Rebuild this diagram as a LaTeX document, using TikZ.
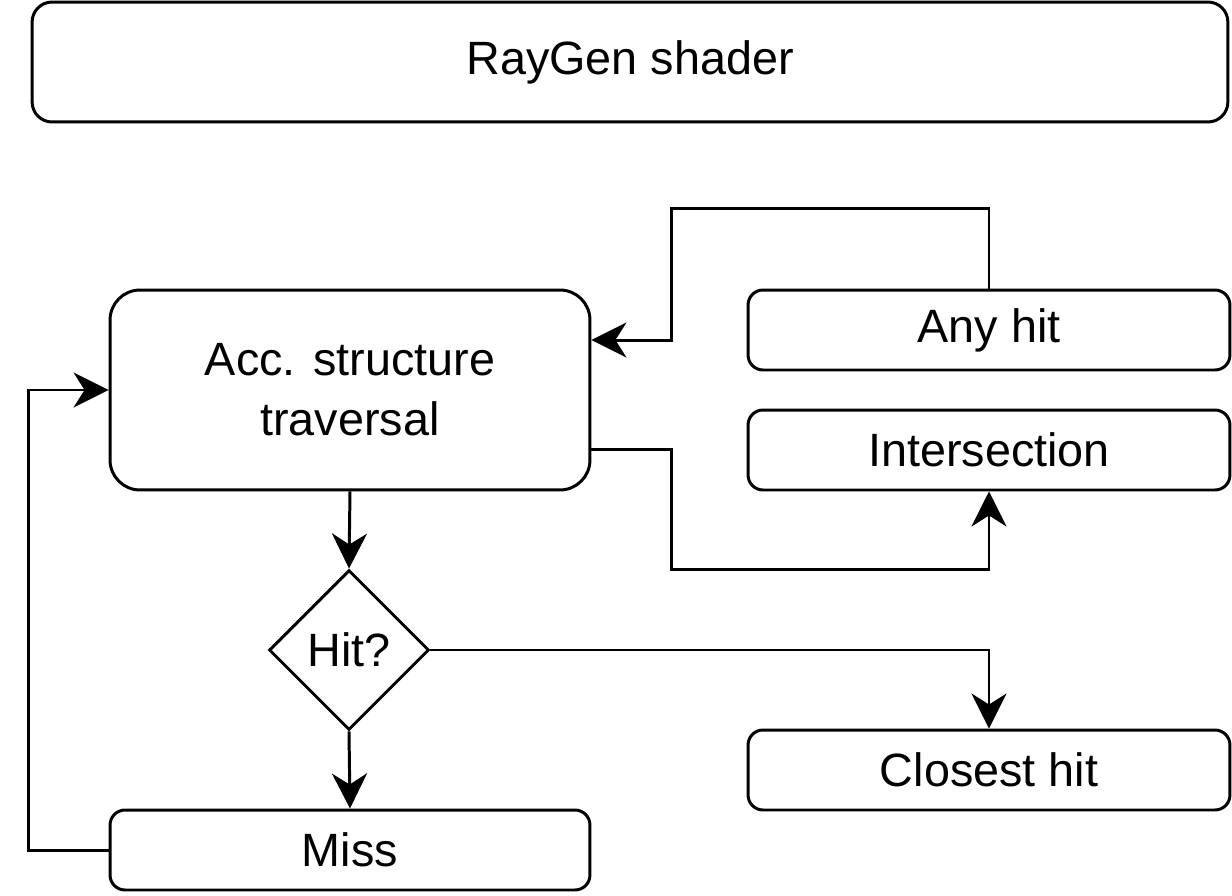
\documentclass[tikz,border=0pt]{standalone}
\usepackage{fontspec}
\setmainfont{Liberation Sans}
\usetikzlibrary{shapes.geometric,arrows.meta}
\tikzset{
  box/.style={draw, line width=1.7pt, rounded corners=0.3cm, inner sep=0pt, align=center},
  flow/.style={line width=1.7pt, -{Stealth[length=0.7cm, width=0.7cm, inset=0.22cm]}},
}
\begin{document}
\begin{tikzpicture}[x=0.02cm, y=-0.02cm, line join=miter, font=\fontsize{26.6}{34}\selectfont]
	\useasboundingbox (0,0) rectangle (1232,896);
	\node[box, rounded corners=0.4cm, minimum width=23.92cm, minimum height=2.4cm] (raygen) at (630,62) {RayGen shader};
	\node[box, rounded corners=0.6cm, minimum width=9.6cm, minimum height=4cm] (acc) at (350,390) {Acc. structure\\traversal};
	\node[box, minimum width=9.64cm, minimum height=1.6cm] (anyhit) at (989,330) {Any hit};
	\node[box, minimum width=9.64cm, minimum height=1.6cm] (inter) at (989,450) {Intersection};
	\node[draw, line width=1.7pt, diamond, inner sep=0pt, minimum size=3.2cm] (hit) at (349,650) {Hit?};
	\node[box, minimum width=9.64cm, minimum height=1.6cm] (closest) at (989,770) {Closest hit};
	\node[box, minimum width=9.6cm, minimum height=1.6cm] (miss) at (350,850) {Miss};
	% connectors
	\draw[flow] (acc.south) -- (hit.north);
	\draw[flow] (hit.south) -- (miss.north);
	\draw[flow] (hit.east) -| (closest.north);
	\draw[flow] (miss.west) -- ++(-80,0) |- (acc.west);
	\draw[flow] (anyhit.north) -- ++(0,-80) -| ([xshift=1.6cm,yshift=1cm]acc.east) -- ([yshift=1cm]acc.east);
	\draw[flow] ([yshift=-1.2cm]acc.east) -- ++(80,0) -- ++(0,120) -| (inter.south);
\end{tikzpicture}
\end{document}
